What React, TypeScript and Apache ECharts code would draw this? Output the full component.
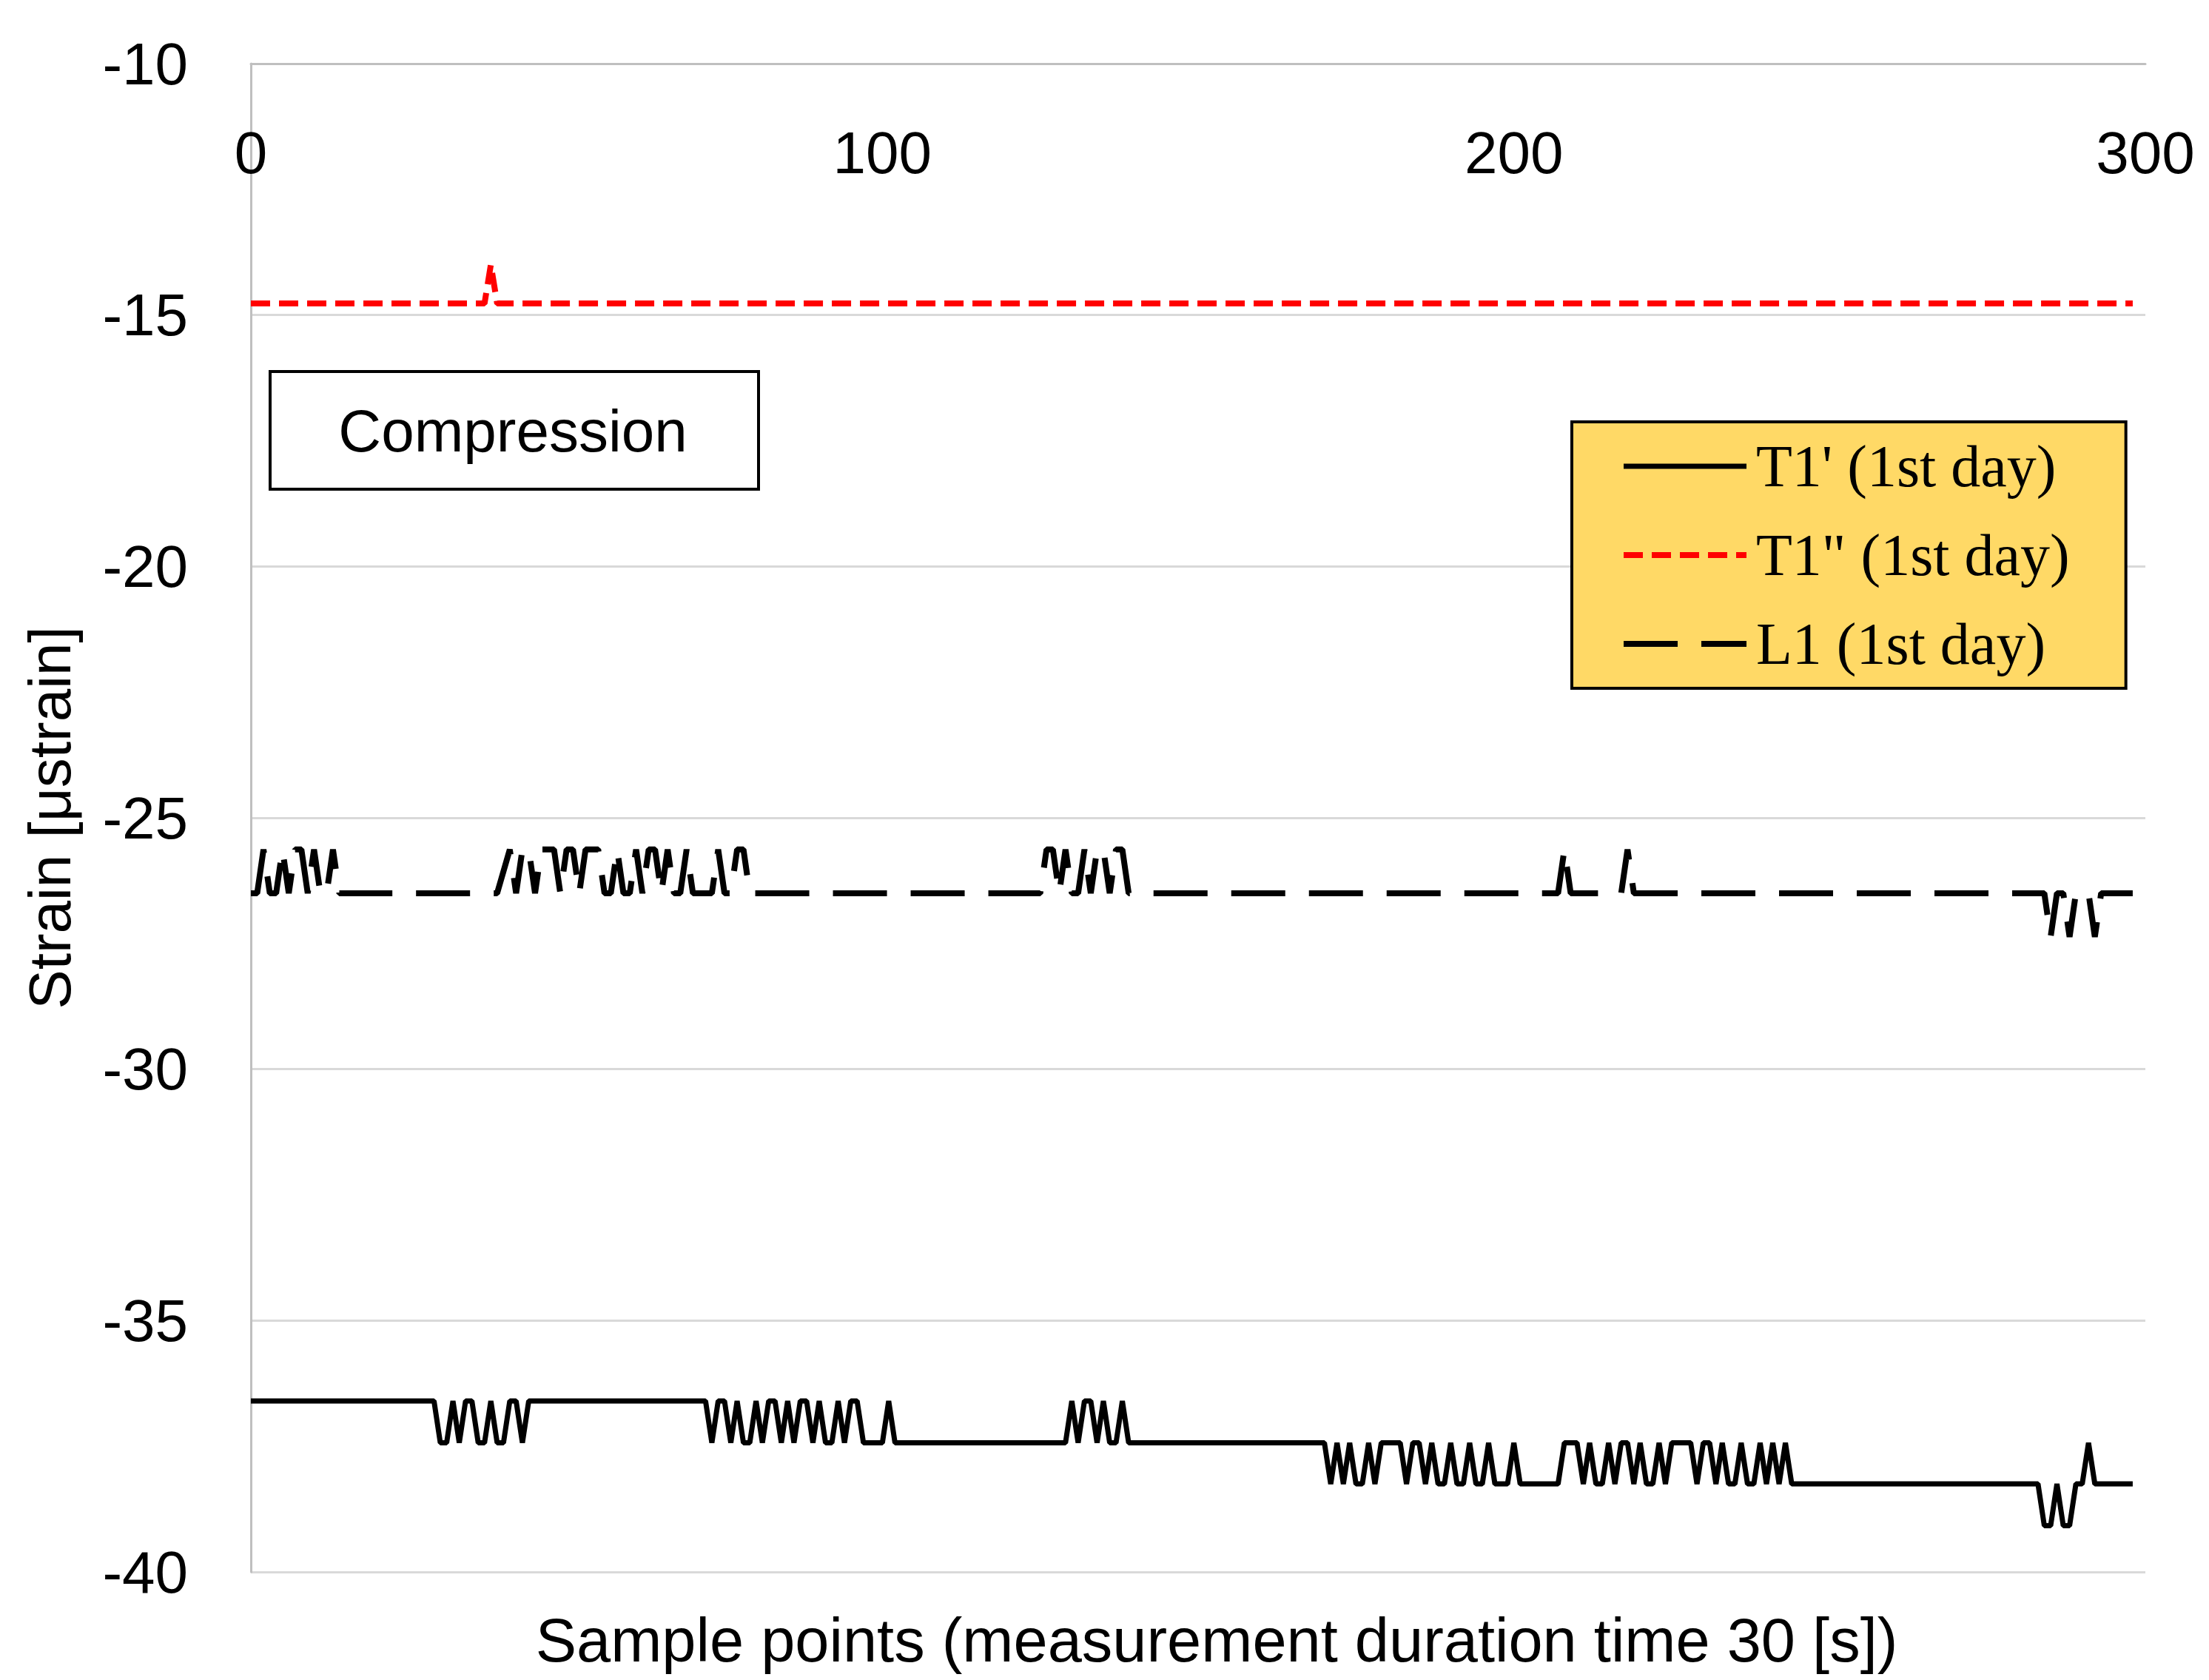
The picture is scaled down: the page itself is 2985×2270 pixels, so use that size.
import React, { useEffect, useRef } from "react";
import * as echarts from "echarts";

// ---- data (sample index, strain) ----
const seriesNames = ["T1' (1st day)", 'T1" (1st day)', "L1 (1st day)"];

const t1Prime: number[][] = [
  [0, -36.6], [29, -36.6], [30, -37.43], [31, -37.43], [32, -36.6], [33, -37.43], [34, -36.6], [35, -36.6],
  [36, -37.43], [37, -37.43], [38, -36.6], [39, -37.43], [40, -37.43], [41, -36.6], [42, -36.6], [43, -37.43], [44, -36.6],
  [72, -36.6], [73, -37.43], [74, -36.6], [75, -36.6], [76, -37.43], [77, -36.6], [78, -37.43], [79, -37.43],
  [80, -36.6], [81, -37.43], [82, -36.6], [83, -36.6], [84, -37.43], [85, -36.6], [86, -37.43], [87, -36.6],
  [88, -36.6], [89, -37.43], [90, -36.6], [91, -37.43], [92, -37.43], [93, -36.6], [94, -37.43], [95, -36.6],
  [96, -36.6], [97, -37.43], [100, -37.43], [101, -36.6], [102, -37.43],
  [129, -37.43], [130, -36.6], [131, -37.43], [132, -36.6], [133, -36.6], [134, -37.43], [135, -36.6],
  [136, -37.43], [137, -37.43], [138, -36.6], [139, -37.43],
  [170, -37.43], [171, -38.25], [172, -37.43], [173, -38.25], [174, -37.43], [175, -38.25], [176, -38.25],
  [177, -37.43], [178, -38.25], [179, -37.43], [182, -37.43], [183, -38.25], [184, -37.43], [185, -37.43],
  [186, -38.25], [187, -37.43], [188, -38.25], [189, -38.25], [190, -37.43], [191, -38.25], [192, -38.25],
  [193, -37.43], [194, -38.25], [195, -38.25], [196, -37.43], [197, -38.25], [199, -38.25], [200, -37.43],
  [201, -38.25], [207, -38.25], [208, -37.43], [210, -37.43], [211, -38.25], [212, -37.43], [213, -38.25],
  [214, -38.25], [215, -37.43], [216, -38.25], [217, -37.43], [218, -37.43], [219, -38.25], [220, -37.43],
  [221, -38.25], [222, -38.25], [223, -37.43], [224, -38.25], [225, -37.43], [228, -37.43], [229, -38.25],
  [230, -37.43], [231, -37.43], [232, -38.25], [233, -37.43], [234, -38.25], [235, -38.25], [236, -37.43],
  [237, -38.25], [238, -38.25], [239, -37.43], [240, -38.25], [241, -37.43], [242, -38.25], [243, -37.43],
  [244, -38.25],
  [283, -38.25], [284, -39.08], [285, -39.08], [286, -38.25], [287, -39.08], [288, -39.08], [289, -38.25],
  [290, -38.25], [291, -37.43], [292, -38.25], [298, -38.25],
];

const t1DoublePrime: number[][] = [
  [0, -14.77], [37, -14.77], [38, -14.0], [39, -14.77], [298, -14.77],
];

const l1: number[][] = [
  [0, -26.5], [1, -26.5], [2, -25.63], [3, -26.5], [4, -26.5], [5, -25.63], [6, -26.5], [7, -25.63],
  [8, -25.63], [9, -26.5], [10, -25.63], [11, -26.5], [12, -26.5], [13, -25.63], [14, -26.5],
  [39, -26.5], [41, -25.63], [42, -26.5], [43, -25.63], [44, -25.63], [45, -26.5], [46, -25.63],
  [47, -25.63], [48, -25.63], [49, -26.5], [50, -25.63], [51, -25.63], [52, -26.5], [53, -25.63],
  [55, -25.63], [56, -26.5], [57, -26.5], [58, -25.63], [59, -26.5], [60, -26.5], [61, -25.63],
  [62, -26.5], [63, -25.63], [64, -25.63], [65, -26.5], [66, -25.63], [67, -26.5], [68, -26.5],
  [69, -25.63], [70, -26.5], [73, -26.5], [74, -25.63], [75, -26.5], [76, -26.5], [77, -25.63],
  [78, -25.63], [79, -26.5],
  [125, -26.5], [126, -25.63], [127, -25.63], [128, -26.5], [129, -25.63], [130, -26.5], [131, -26.5],
  [132, -25.63], [133, -26.5], [134, -25.63], [135, -25.63], [136, -26.5], [137, -25.63], [138, -25.63],
  [139, -26.5],
  [207, -26.5], [208, -25.63], [209, -26.5], [217, -26.5], [218, -25.63], [219, -26.5],
  [284, -26.5], [285, -27.37], [286, -26.5], [287, -26.5], [288, -27.37], [289, -26.5], [291, -26.5],
  [292, -27.37], [293, -26.5], [298, -26.5],
];

const yTicks = { min: -40, max: -10, interval: 5 };
const xTicks = { min: 0, max: 300, interval: 100 };

const yTitle = "Strain [μstrain]";
const xTitle = "Sample points (measurement duration time 30 [s])";
const boxLabel = "Compression";

const SANS = "Liberation Sans";
const SERIF = "Liberation Serif";

export default function App() {
  const ref = useRef<HTMLDivElement>(null);

  useEffect(() => {
    if (!ref.current) return;
    const chart = echarts.init(ref.current, undefined, { renderer: "svg" });
    chart.setOption({
      animation: false,
      backgroundColor: "#ffffff",
      grid: { left: 339, right: 86, top: 86, bottom: 146, containLabel: false, outerBoundsMode: "none" },
      xAxis: {
        type: "value",
        position: "top",
        min: xTicks.min,
        max: xTicks.max,
        interval: xTicks.interval,
        axisLine: { show: true, onZero: false, lineStyle: { color: "#BFBFBF", width: 3 } },
        axisTick: { show: false },
        splitLine: { show: false },
        axisLabel: {
          inside: true,
          margin: 80,
          fontFamily: SANS,
          fontSize: 80,
          color: "#000",
        },
      },
      yAxis: {
        type: "value",
        min: yTicks.min,
        max: yTicks.max,
        interval: yTicks.interval,
        name: yTitle,
        nameLocation: "middle",
        nameGap: 232,
        nameTextStyle: { fontFamily: SANS, fontSize: 80, color: "#000" },
        axisLine: { show: true, onZero: false, lineStyle: { color: "#BFBFBF", width: 3 } },
        axisTick: { show: false },
        splitLine: { show: true, lineStyle: { color: "#D9D9D9", width: 3 } },
        axisLabel: { margin: 85, fontFamily: SANS, fontSize: 80, color: "#000" },
      },
      legend: {
        orient: "vertical",
        left: 2124,
        top: 570,
        backgroundColor: "#FFD966",
        borderColor: "#000",
        borderWidth: 4,
        borderRadius: 0,
        padding: [10, 76, 10, 66],
        itemWidth: 166,
        itemHeight: 20,
        itemGap: 20,
        selectedMode: false,
        itemStyle: { opacity: 0 },
        lineStyle: { width: "inherit", type: "inherit" },
        textStyle: { fontFamily: SERIF, fontSize: 80, color: "#000", lineHeight: 100, padding: [0, 0, 0, 8] },
        data: seriesNames,
      },
      graphic: [
        {
          type: "rect",
          shape: { x: 365, y: 502, width: 660, height: 159 },
          style: { fill: "#fff", stroke: "#000", lineWidth: 4 },
          z: 10,
        },
        {
          type: "text",
          x: 693,
          y: 582,
          z: 11,
          style: {
            text: boxLabel,
            fontFamily: SANS,
            fontSize: 80,
            fill: "#000",
            align: "center",
            verticalAlign: "middle",
          },
        },
        {
          type: "text",
          x: 1644,
          y: 2216,
          style: {
            text: xTitle,
            fontFamily: SANS,
            fontSize: 83,
            fill: "#000",
            align: "center",
            verticalAlign: "middle",
          },
        },
      ],
      series: [
        {
          name: seriesNames[0],
          type: "line",
          data: t1Prime,
          symbol: "none",
          showSymbol: false,
          lineStyle: { color: "#000", width: 7, type: "solid" },
          itemStyle: { color: "#000" },
        },
        {
          name: seriesNames[1],
          type: "line",
          data: t1DoublePrime,
          symbol: "none",
          showSymbol: false,
          lineStyle: { color: "#FF0000", width: 8, type: [26, 12] },
          itemStyle: { color: "#FF0000" },
        },
        {
          name: seriesNames[2],
          type: "line",
          data: l1,
          symbol: "none",
          showSymbol: false,
          lineStyle: { color: "#000", width: 8, type: [73, 32] },
          itemStyle: { color: "#000" },
        },
      ],
    });
    return () => chart.dispose();
  }, []);

  return (
    <div
      ref={ref}
      style={{ position: "absolute", left: 0, top: 0, width: 2985, height: 2270, background: "#fff" }}
    />
  );
}
